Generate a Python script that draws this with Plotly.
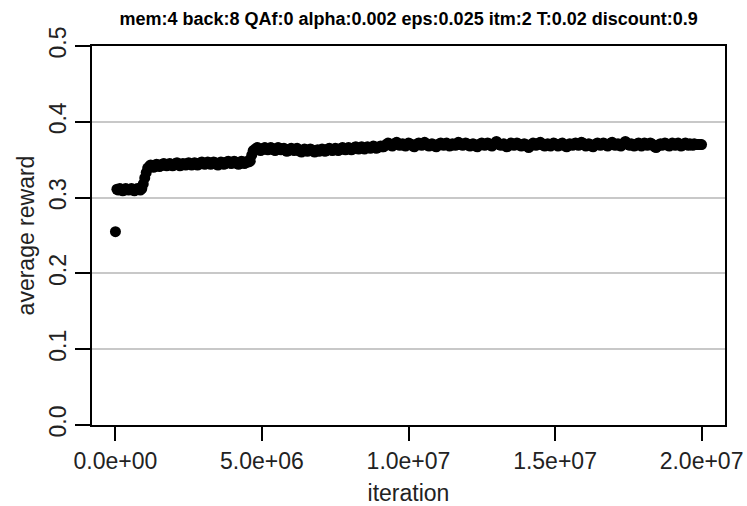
import plotly.graph_objects as go

title_text = "mem:4 back:8 QAf:0 alpha:0.002 eps:0.025 itm:2 T:0.02 discount:0.9"
x_label = "iteration"
y_label = "average reward"

iteration_step = 50000
iterations = [i * iteration_step for i in range(401)]

reward_start = [0.255]
reward_plateau1 = [
    0.311, 0.310, 0.312, 0.311, 0.309, 0.310, 0.312, 0.311, 0.310, 0.311,
    0.312, 0.310, 0.309, 0.311, 0.312, 0.311, 0.310, 0.312,
]
reward_rise1 = [0.318, 0.326, 0.333, 0.339]
reward_plateau2 = [
    0.341, 0.343, 0.342, 0.340, 0.342, 0.344, 0.343, 0.341, 0.342, 0.344,
    0.345, 0.343, 0.342, 0.343, 0.345, 0.344, 0.342, 0.343, 0.345, 0.346,
    0.344, 0.342, 0.343, 0.345, 0.344, 0.343, 0.345, 0.346, 0.344, 0.343,
    0.344, 0.346, 0.345, 0.343, 0.344, 0.346, 0.347, 0.345, 0.344, 0.345,
    0.347, 0.346, 0.344, 0.345, 0.347, 0.346, 0.344, 0.343, 0.345, 0.347,
    0.346, 0.344, 0.345, 0.347, 0.348, 0.346, 0.345, 0.346, 0.348, 0.347,
    0.345, 0.344, 0.346, 0.348, 0.347, 0.345, 0.346, 0.348, 0.347, 0.348,
]
reward_rise2 = [0.356, 0.362]
reward_plateau3 = [
    0.363, 0.365, 0.366, 0.364, 0.362, 0.363, 0.365, 0.366, 0.364, 0.363,
    0.364, 0.366, 0.365, 0.363, 0.362, 0.364, 0.366, 0.365, 0.363, 0.364,
    0.365, 0.363, 0.361, 0.362, 0.364, 0.365, 0.363, 0.362, 0.364, 0.365,
    0.363, 0.361, 0.360, 0.362, 0.364, 0.363, 0.361, 0.362, 0.364, 0.363,
    0.361, 0.360, 0.362, 0.363, 0.361, 0.362, 0.364, 0.363, 0.361, 0.362,
    0.364, 0.365, 0.363, 0.362, 0.363, 0.365, 0.364, 0.362, 0.363, 0.365,
    0.366, 0.364, 0.363, 0.364, 0.366, 0.365, 0.363, 0.364, 0.366, 0.367,
    0.365, 0.364, 0.366, 0.367, 0.365, 0.364, 0.366, 0.367, 0.366, 0.365,
    0.366, 0.368, 0.367, 0.365, 0.366, 0.367, 0.368, 0.367,
]
reward_rise3 = [0.367]
reward_plateau4 = [
    0.369, 0.370, 0.372, 0.371, 0.369, 0.368, 0.370, 0.372, 0.373, 0.371,
    0.369, 0.370, 0.371, 0.369, 0.368, 0.370, 0.372, 0.371, 0.370, 0.368,
    0.367, 0.369, 0.371, 0.372, 0.370, 0.369, 0.371, 0.373, 0.371, 0.369,
    0.368, 0.370, 0.371, 0.370, 0.368, 0.367, 0.369, 0.371, 0.372, 0.370,
    0.369, 0.371, 0.372, 0.370, 0.368, 0.369, 0.371, 0.370, 0.369, 0.371,
    0.373, 0.372, 0.370, 0.369, 0.370, 0.372, 0.371, 0.369, 0.368, 0.370,
    0.371, 0.370, 0.368, 0.367, 0.369, 0.371, 0.372, 0.370, 0.369, 0.371,
    0.372, 0.371, 0.369, 0.368, 0.370, 0.372, 0.374, 0.372, 0.370, 0.369,
    0.370, 0.371, 0.369, 0.367, 0.368, 0.370, 0.372, 0.371, 0.369, 0.370,
    0.372, 0.371, 0.369, 0.368, 0.370, 0.371, 0.370, 0.368, 0.366, 0.368,
    0.370, 0.372, 0.371, 0.369, 0.370, 0.372, 0.373, 0.371, 0.369, 0.368,
    0.370, 0.371, 0.369, 0.368, 0.370, 0.372, 0.371, 0.370, 0.368, 0.369,
    0.371, 0.372, 0.370, 0.368, 0.367, 0.369, 0.371, 0.370, 0.369, 0.371,
    0.372, 0.370, 0.369, 0.371, 0.373, 0.372, 0.370, 0.368, 0.369, 0.371,
    0.370, 0.368, 0.367, 0.369, 0.371, 0.372, 0.370, 0.369, 0.370, 0.372,
    0.371, 0.369, 0.368, 0.370, 0.372, 0.373, 0.371, 0.369, 0.370, 0.371,
    0.369, 0.368, 0.370, 0.372, 0.374, 0.372, 0.370, 0.369, 0.371, 0.370,
    0.368, 0.369, 0.371, 0.372, 0.370, 0.368, 0.370, 0.372, 0.371, 0.369,
    0.370, 0.372, 0.371, 0.369, 0.367, 0.366, 0.368, 0.370, 0.371, 0.369,
    0.370, 0.372, 0.371, 0.369, 0.368, 0.370, 0.372, 0.370, 0.369, 0.371,
    0.372, 0.370, 0.368, 0.369, 0.371, 0.372, 0.370, 0.369, 0.371, 0.370,
    0.369, 0.371, 0.370, 0.370, 0.370, 0.370, 0.370,
]
rewards = (reward_start + reward_plateau1 + reward_rise1 + reward_plateau2
           + reward_rise2 + reward_plateau3 + reward_rise3 + reward_plateau4)

x_tick_vals = [0, 5e6, 1e7, 1.5e7, 2e7]
x_tick_text = ["0.0e+00", "5.0e+06", "1.0e+07", "1.5e+07", "2.0e+07"]
y_tick_vals = [0.0, 0.1, 0.2, 0.3, 0.4, 0.5]
y_tick_text = ["0.0", "0.1", "0.2", "0.3", "0.4", "0.5"]

FONT = "Liberation Sans, Arial, Helvetica, sans-serif"

fig = go.Figure()
fig.add_trace(go.Scatter(
    x=iterations[:len(rewards)], y=rewards, mode="markers",
    marker=dict(color="black", size=11, line=dict(width=0)),
    showlegend=False, hoverinfo="x+y",
))

fig.update_layout(
    width=747, height=506,
    margin=dict(l=92, r=22, t=46, b=81),
    paper_bgcolor="white", plot_bgcolor="white",
    font=dict(family=FONT, color="black", size=23),
    title=dict(text="<b>" + title_text + "</b>", x=0.547, xanchor="center",
               y=1 - 19 / 506, yanchor="middle",
               font=dict(family=FONT, size=18, color="black")),
)
fig.update_xaxes(
    range=[-0.8e6, 20.8e6],
    tickvals=x_tick_vals, ticktext=x_tick_text,
    ticks="outside", ticklen=14, tickwidth=2, tickcolor="black",
    showline=True, linewidth=2, linecolor="black", mirror=True,
    showgrid=False, zeroline=False, automargin=False,
    tickfont=dict(size=23, color="#222222"),
    title=dict(text=x_label, font=dict(size=23, color="#222222"), standoff=12),
)
fig.update_yaxes(
    range=[0, 0.5],
    tickvals=y_tick_vals, ticktext=y_tick_text, tickangle=-90,
    ticks="outside", ticklen=15, tickwidth=2, tickcolor="black",
    showline=True, linewidth=2, linecolor="black", mirror=True,
    showgrid=True, gridcolor="#c8c8c8", gridwidth=2,
    zeroline=False, automargin=False,
    tickfont=dict(size=23, color="#222222"),
    title=dict(text=y_label, font=dict(size=23, color="#222222"), standoff=4),
)

fig.write_html("out.html")
